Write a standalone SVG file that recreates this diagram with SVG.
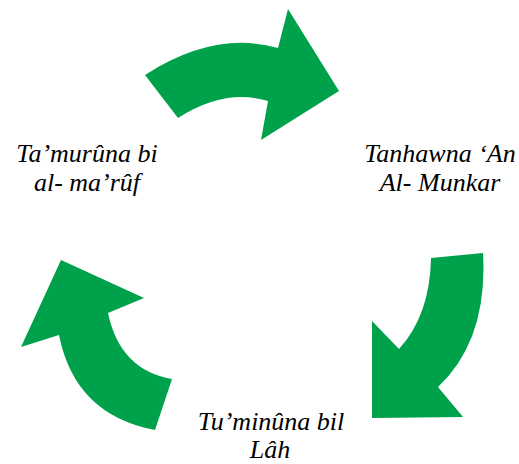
<svg xmlns="http://www.w3.org/2000/svg" width="519" height="464" viewBox="0 0 519 464">
<style>
.arrow{fill:#00a14b;stroke:none}
.lbl{font-family:"Liberation Serif","Times New Roman",serif;font-style:italic;font-size:26px;fill:#000;text-anchor:middle}
</style>
<rect width="519" height="464" fill="#fff"/>
<g id="connectors">
<path id="arrow-top" class="arrow" d="M145,75 Q215,30 278,48 L288,9 L339,91 L261,140 L268,101 Q225,88 178,118 Z"/>
<path id="arrow-right" class="arrow" d="M431,258 L483,253 Q488,340 438,387 L463,417 L372,418 L372,321 L399,349 Q430,315 431,258 Z"/>
<path id="arrow-left" class="arrow" d="M61,260 L144,298 L108,313 Q120,370 172,379 L155,430 Q75,415 59,335 L21,347 Z"/>
</g>
<g id="node-amar">
<text class="lbl" x="87" y="162">Ta’murûna bi</text>
<text class="lbl" x="87" y="191">al- ma’rûf</text>
</g>
<g id="node-nahy">
<text class="lbl" x="440" y="162">Tanhawna ‘An</text>
<text class="lbl" x="440" y="191">Al- Munkar</text>
</g>
<g id="node-iman">
<text class="lbl" x="271" y="430">Tu’minûna bil</text>
<text class="lbl" x="270" y="458">Lâh</text>
</g>
</svg>
